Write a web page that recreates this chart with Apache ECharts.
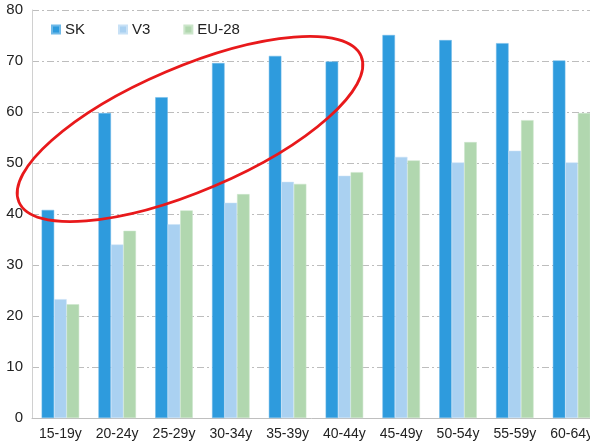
<!DOCTYPE html>
<html>
<head>
<meta charset="utf-8">
<script src="https://cdn.jsdelivr.net/npm/echarts@6/dist/echarts.min.js"></script>
<style>
html, body { margin: 0; padding: 0; background: #fff; }
#main { width: 590px; height: 442px; }
</style>
</head>
<body>
<div id="main"></div>
<script>
var categories = ['15-19y', '20-24y', '25-29y', '30-34y', '35-39y', '40-44y', '45-49y', '50-54y', '55-59y', '60-64y'];
var skData = [40.8, 59.8, 62.9, 69.6, 71.0, 69.9, 75.1, 74.1, 73.5, 70.1];
var v3Data = [23.3, 34.0, 38.0, 42.2, 46.3, 47.5, 51.2, 50.1, 52.4, 50.1];
var euData = [22.3, 36.7, 40.7, 43.9, 45.9, 48.2, 50.5, 54.1, 58.4, 59.8];

var myChart = echarts.init(document.getElementById('main'));
var gridLine = { color: '#bdbdbd', width: 1, type: [7, 3, 2, 3] };
var options = {
    animation: false,
    textStyle: { fontFamily: 'Liberation Sans, Arial, sans-serif' },
    // 图表右侧被裁切，网格宽度超出画布
    grid: { left: 32, width: 568, top: 10, bottom: 24, outerBoundsMode: 'none' },
    legend: {
        left: 46, top: 17,
        itemWidth: 8, itemHeight: 8, itemGap: 33,
        icon: 'rect',
        textStyle: { fontSize: 15, color: '#222' },
        data: ['SK', 'V3', 'EU-28']
    },
    xAxis: {
        type: 'category',
        data: categories,
        axisLine: { lineStyle: { color: '#bfbfbf' } },
        axisTick: { length: 5, lineStyle: { color: '#bfbfbf' } },
        axisLabel: { fontSize: 14, color: '#222', margin: 9, interval: 0 }
    },
    yAxis: {
        type: 'value',
        min: 0, max: 80, interval: 10,
        axisLine: { show: true, lineStyle: { color: '#d0d0d0' } },
        axisTick: { show: false },
        axisLabel: { fontSize: 15, color: '#222', margin: 9 },
        splitLine: { lineStyle: gridLine }
    },
    series: [
        { name: 'SK', type: 'bar', data: skData, barWidth: 12.5, barGap: '0%',
          itemStyle: { color: '#2e9bdd', borderColor: '#6fb9e8', borderWidth: 0.5 } },
        { name: 'V3', type: 'bar', data: v3Data, barWidth: 12.5,
          itemStyle: { color: '#aad1f1', borderColor: '#c8e1f6', borderWidth: 0.5 } },
        { name: 'EU-28', type: 'bar', data: euData, barWidth: 12.5,
          itemStyle: { color: '#b1d7af', borderColor: '#cbe5ca', borderWidth: 0.5 } }
    ],
    // 红色椭圆标注
    graphic: [{
        type: 'ellipse',
        x: 190, y: 129,
        rotation: 23.1 * Math.PI / 180,
        z: 100,
        shape: { cx: 0, cy: 0, rx: 186, ry: 62 },
        style: { fill: 'none', stroke: '#e8191b', lineWidth: 2.8 }
    }]
};
myChart.setOption(options);
</script>
</body>
</html>
